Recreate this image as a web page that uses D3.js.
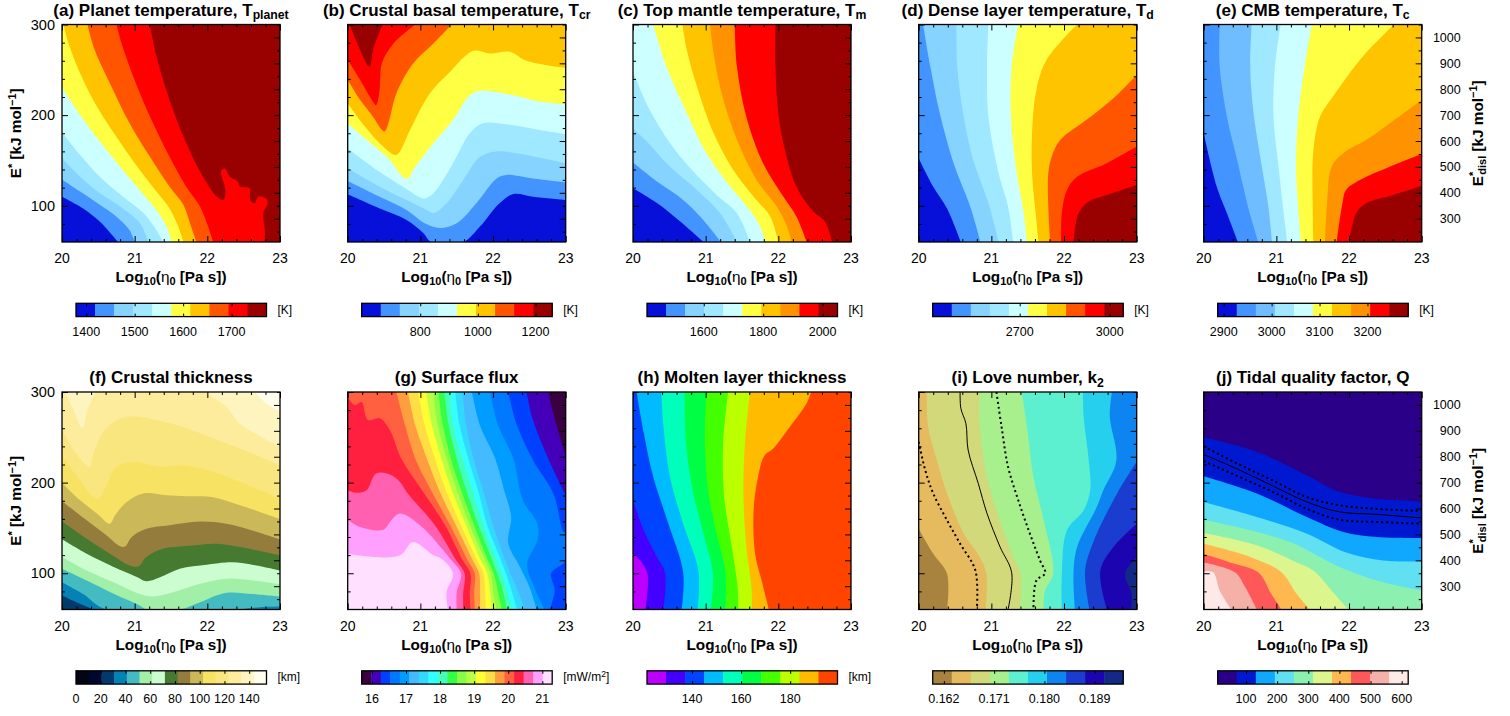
<!DOCTYPE html>
<html><head><meta charset="utf-8">
<script src="https://cdn.jsdelivr.net/npm/d3@7"></script>
<style>html,body{margin:0;padding:0;background:#fff}svg{display:block}text{font-family:"Liberation Sans",Arial,sans-serif;fill:#000}</style>
</head><body><div id="chart"></div>
<script>
// ---------- shared axis data ----------
const etaDomain=[20,23], eDomain=[60,300], eDislDomain=[210,1050];
const etaMajor=[20,21,22,23];
const etaMinor=[20.2,20.4,20.6,20.8,21.2,21.4,21.6,21.8,22.2,22.4,22.6,22.8];
const eMajor=[100,200,300];
const eMinor=[80,120,140,160,180,220,240,260,280];
const eDislMajor=[300,400,500,600,700,800,900,1000];
const eDislMinor=[250,350,450,550,650,750,850,950,1050];

// ---------- palettes ----------
const palA=["#0610d8","#4494ff","#87d3ff","#9fe8ff","#ccffff","#ffff44","#ffc400","#ff5500","#ff0000","#990000"];
const palC=["#0610d8","#4494ff","#87d3ff","#9fe8ff","#ccffff","#ffff44","#ffc400","#ff9200","#ff0000","#990000"];
const palE=["#0610d8","#4494ff","#6fbcff","#9fe8ff","#ccffff","#ffff44","#ffc400","#ff9200","#ff0000","#990000"];
const palF=["#040514","#00072f","#013a6b","#0481b5","#44bbc0","#a2efa8","#ccfdd0","#467a30","#947c3c","#cbb858","#f8e264","#f9e67e","#fcec9c","#fdf4c0","#fffdeb"];
const palG=["#3a0040","#4400b8","#0040ff","#0078ff","#009cff","#44bbff","#33d8ff","#33ffff","#44ffbb","#33ff44","#88ff44","#bbff44","#ffff33","#ffdd44","#ff9e3e","#ff6040","#ff2040","#ff60b0","#ffa0ff","#ffe0ff"];
const palH=["#bb00ff","#4400ff","#0044ff","#00bbff","#00ffbb","#00ff44","#44ff00","#bbff00","#ffbb00","#ff4400"];
const palI=["#a88340","#e6ba5e","#d2d97a","#a8ef8e","#5cf0d0","#26cfee","#0e84f0","#1a3dd0","#1c05b0","#122a85"];
const palJ=["#2a0088","#0018d0","#10a8ff","#60e0f0","#8cf0b0","#dcf58c","#ffb850","#ff5858","#f5b0a8","#ffe8e8"];

// ---------- contour boundaries [band index, [[log10 eta, E*],...]] ----------
const contA=[
[1,[[20,110],[20.29,97],[20.52,82.5],[20.77,60]]],
[2,[[20,129],[20.25,115.6],[20.52,101],[20.75,88],[20.93,73],[21,60]]],
[3,[[20,152.4],[20.25,132],[20.52,114],[20.84,97],[21.07,81],[21.19,60]]],
[4,[[20,180.8],[20.25,156],[20.52,132],[20.84,110],[21.12,92],[21.3,73],[21.39,60]]],
[5,[[20,230.8],[20.25,200],[20.52,171],[20.8,143],[21.07,117.5],[21.3,95],[21.44,77],[21.51,60]]],
[6,[[20.02,300],[20.09,279],[20.25,246],[20.48,209.5],[20.75,176],[21.07,139.5],[21.3,115.6],[21.48,97],[21.6,77],[21.67,60]]],
[7,[[20.35,300],[20.45,272],[20.66,235],[20.93,191],[21.21,154],[21.48,121],[21.67,101],[21.76,81],[21.85,60]]],
[8,[[20.75,300],[20.82,279],[20.98,242.6],[21.21,198.4],[21.48,154],[21.71,121],[21.9,99],[22.01,77],[22.08,60]]],
[9,[[21.21,300],[21.3,264.7],[21.48,216.8],[21.71,169],[21.94,132],[22.13,110],[22.22,106.4],[22.25,117.5],[22.19,137.7],[22.24,141],[22.31,132],[22.42,126.7],[22.45,121],[22.58,119.3],[22.59,106.4],[22.65,102.8],[22.7,110],[22.81,108],[22.83,102.8],[22.77,92],[22.79,73],[22.79,60]]]
];
const contB=[
[1,[[20,112.7],[20.44,97],[20.81,84.4],[21.04,70],[21.15,60],[21.59,60],[21.82,77],[22.09,102.8],[22.28,113],[22.55,110],[23,106.4]]],
[2,[[20,127.4],[20.44,110],[20.81,95.4],[21.06,80.7],[21.27,75.5],[21.5,80.7],[21.77,102.8],[22.05,130],[22.18,134],[22.55,130],[23,125.6]]],
[3,[[20,141.4],[20.44,121],[20.81,106.4],[21.09,95.4],[21.18,92],[21.36,102.8],[21.59,128.5],[21.82,154],[22.05,160],[22.32,158],[23,147]]],
[4,[[20,163.5],[20.4,139.5],[20.76,121],[20.99,109.4],[21.06,108],[21.18,113.8],[21.45,147],[21.68,180],[21.86,191],[22.18,190],[22.64,183.7],[23,179]]],
[5,[[20,191],[20.26,172.7],[20.58,150.6],[20.76,132],[20.83,129.6],[20.9,139.5],[21.18,169],[21.45,194.8],[21.68,222],[21.82,227],[22.28,222],[22.64,215],[23,212]]],
[6,[[20,213],[20.22,189],[20.44,169],[20.65,156],[20.7,158],[20.86,184],[21.13,224],[21.41,248],[21.73,271],[21.96,268],[22.23,270],[22.46,260],[23,252]]],
[7,[[20,239],[20.17,217],[20.35,198],[20.47,184],[20.51,182],[20.56,191],[20.67,224],[20.9,257],[21.18,279],[21.43,300]]],
[8,[[20,261],[20.17,239],[20.33,217],[20.39,211],[20.44,228],[20.47,257],[20.63,279],[20.93,300]]],
[9,[[20.03,300],[20.17,272],[20.3,253.6],[20.35,272],[20.48,300]]]
];
const contC=[
[1,[[20,119.3],[20.33,103],[20.65,82.5],[20.97,60]]],
[2,[[20,147.6],[20.33,126.7],[20.69,106.4],[20.97,84],[21.21,60]]],
[3,[[20,185.6],[20.19,171],[20.51,143],[20.88,117.5],[21.2,91.7],[21.43,60]]],
[4,[[20,248],[20.23,205.8],[20.51,169],[20.83,137.7],[21.15,112],[21.43,91.7],[21.61,60]]],
[5,[[20.28,300],[20.46,253.6],[20.74,202],[21.01,158],[21.34,121],[21.61,95],[21.75,77],[21.82,60]]],
[6,[[20.68,300],[20.74,272],[20.88,231.6],[21.11,180],[21.38,139.5],[21.66,110],[21.89,88],[22,60]]],
[7,[[21.06,300],[21.11,268],[21.22,224],[21.43,172.7],[21.7,128.5],[21.98,99],[22.12,77],[22.18,60]]],
[8,[[21.4,300],[21.43,253.6],[21.56,198],[21.79,147],[22.07,110],[22.25,88],[22.39,60]]],
[9,[[21.96,300],[21.96,253.6],[22,202],[22.09,161.6],[22.25,121],[22.48,93.6],[22.64,82.5],[22.74,60]]]
];
const contD=[
[1,[[20,152.4],[20.2,121],[20.39,97],[20.58,60]]],
[2,[[20.06,300],[20.16,253.6],[20.29,202],[20.48,147],[20.71,99],[20.85,60]]],
[3,[[20.52,300],[20.53,253.6],[20.62,198],[20.75,150.6],[20.96,103],[21.1,60]]],
[4,[[20.96,300],[20.94,253.6],[20.96,198],[21.1,136],[21.23,99],[21.3,60]]],
[5,[[21.37,300],[21.28,253.6],[21.27,198],[21.35,136],[21.44,95],[21.49,60]]],
[6,[[22.18,300],[21.76,261],[21.62,228],[21.56,180],[21.56,136],[21.6,99],[21.65,60]]],
[7,[[23,244.4],[22.68,218.7],[22.31,194.8],[21.95,172.7],[21.83,154],[21.78,132],[21.81,60]]],
[8,[[23,165.3],[22.59,147],[22.18,132],[22.04,117.5],[21.97,92],[21.96,60]]],
[9,[[23,123],[22.59,112],[22.34,104.6],[22.2,92],[22.13,60]]]
];
const contE=[
[1,[[20,180],[20.18,121],[20.32,91.7],[20.47,60]]],
[2,[[20.22,300],[20.22,253.6],[20.32,198],[20.45,154],[20.61,99],[20.75,60]]],
[3,[[20.66,300],[20.64,253.6],[20.68,205.8],[20.8,143],[20.89,99],[20.94,60]]],
[4,[[21.06,300],[20.98,253.6],[20.96,198],[21.03,143],[21.09,99],[21.15,60]]],
[5,[[21.49,300],[21.39,253.6],[21.3,198],[21.27,143],[21.3,99],[21.34,60]]],
[6,[[22.62,300],[22.19,264.7],[21.78,220.5],[21.6,198],[21.51,161.6],[21.5,99],[21.51,60]]],
[7,[[23,216.8],[22.56,191],[22.24,172.7],[21.92,158],[21.76,143],[21.7,106.4],[21.67,60]]],
[8,[[23,157],[22.56,143],[22.19,130],[21.96,117.5],[21.91,103],[21.83,60]]],
[9,[[23,122],[22.61,112],[22.24,103],[22.1,92],[22,60]]]
];
const contF=[
[3,[[20,75.5],[20.2,68],[20.43,60]]],
[4,[[20,90],[20.29,77],[20.61,60],[22.35,60],[22.72,62.6],[23,63.3]]],
[5,[[20,105],[20.34,92],[20.71,77.5],[21.07,64.5],[21.16,60],[21.62,60],[21.9,68],[22.26,78.4],[22.63,77],[23,74.4]]],
[6,[[20,118],[20.34,103],[20.71,90],[21.07,77],[21.25,74.4],[21.53,79],[21.9,88.4],[22.26,94],[22.63,92],[23,87.6]]],
[7,[[20,137.4],[20.34,121.5],[20.71,107],[21.03,96],[21.16,91.3],[21.35,95.7],[21.62,105],[21.99,109.4],[22.26,112],[22.54,110.5],[23,103]]],
[8,[[20,157.3],[20.34,138],[20.66,121.5],[20.93,108.6],[21.05,107.5],[21.16,118],[21.39,127],[21.71,130],[22.13,132.6],[22.45,129],[23,119.7]]],
[9,[[20,179.4],[20.34,158.4],[20.61,141.8],[20.8,129.7],[20.87,129.7],[20.96,140],[21.16,149],[21.48,153],[21.9,157],[22.26,154.7],[22.63,147],[23,137.4]]],
[10,[[20,199.7],[20.25,180.5],[20.48,166],[20.66,154.7],[20.73,164],[20.89,178.7],[21.12,188],[21.44,186],[21.71,185],[22.08,184],[22.45,175],[23,160]]],
[11,[[20,230],[20.2,208],[20.48,182],[20.57,190],[20.75,217.4],[20.98,223],[21.35,217.4],[21.71,219],[22.08,212],[22.45,201],[23,182.4]]],
[12,[[20,259.8],[20.16,236],[20.38,217.4],[20.43,232],[20.61,260],[20.89,272.7],[21.3,269],[21.71,260],[22.08,249],[22.45,237.7],[23,219]]],
[13,[[20.04,300],[20.16,280],[20.28,260],[20.35,280],[20.47,300]]],
[13,[[21.96,300],[22.26,283.8],[22.45,265],[23,239.5]]],
[14,[[22.65,300],[22.81,287.5],[23,278]]]
];
const contG=[
[18,[[20,121.5],[20.35,118],[20.72,119.8],[20.9,134.5],[21.18,119.8],[21.29,116],[21.45,99.5],[21.36,79],[21.38,60]]],
[17,[[20,159],[20.17,151],[20.49,148],[20.6,158.4],[20.72,165.8],[20.995,152.9],[21.41,116],[21.56,99.5],[21.5,79],[21.5,60]]],
[16,[[20,191.6],[20.12,188.7],[20.26,191.6],[20.39,210],[20.58,209],[20.72,200.7],[20.81,189.7],[21.2,152.9],[21.48,116],[21.61,99.5],[21.59,79],[21.59,60]]],
[15,[[20,294],[20.1,285.6],[20.19,289],[20.28,269],[20.44,271],[20.58,258],[20.74,226],[21.04,189.7],[21.34,152.9],[21.57,116],[21.69,99.5],[21.68,79],[21.69,60]]],
[14,[[20.67,300],[20.79,263.2],[20.93,226.4],[21.16,189.7],[21.41,152.9],[21.64,116.1],[21.75,99.5],[21.74,79.3],[21.75,60]]],
[13,[[20.83,300],[20.93,263.2],[21.09,226.4],[21.27,189.7],[21.49,152.9],[21.71,116.1],[21.81,99.5],[21.82,79.3],[21.82,60]]],
[12,[[20.97,300],[21.06,263.2],[21.2,226.4],[21.36,189.7],[21.56,152.9],[21.77,116.1],[21.87,99.5],[21.89,79.3],[21.9,60]]],
[11,[[21.08,300],[21.16,263.2],[21.29,226.4],[21.44,189.7],[21.63,152.9],[21.82,116.1],[21.92,99.5],[21.96,79.3],[21.98,60]]],
[10,[[21.18,300],[21.24,263.2],[21.36,226.4],[21.51,189.7],[21.68,152.9],[21.88,116.1],[21.97,99.5],[22,79.3],[22.05,60]]],
[9,[[21.25,300],[21.31,263.2],[21.42,226.4],[21.57,189.7],[21.74,152.9],[21.92,116.1],[22.01,99.5],[22.07,79.3],[22.12,60]]],
[8,[[21.33,300],[21.39,263.2],[21.5,226.4],[21.64,189.7],[21.8,152.9],[21.98,116.1],[22.06,99.5],[22.14,79.3],[22.19,60]]],
[7,[[21.41,300],[21.45,263.2],[21.58,226.4],[21.72,189.7],[21.87,152.9],[22.04,116.1],[22.12,99.5],[22.2,79.3],[22.26,60]]],
[6,[[21.48,300],[21.54,263.2],[21.66,226.4],[21.8,189.7],[21.92,152.9],[22.1,116.1],[22.18,99.5],[22.26,79.3],[22.33,60]]],
[5,[[21.58,300],[21.63,263.2],[21.73,226.4],[21.87,189.7],[22,152.9],[22.16,116.1],[22.24,99.5],[22.35,79.3],[22.44,60]]],
[4,[[21.71,300],[21.82,263.2],[22.03,226.4],[22.16,189.7],[22.23,171],[22.25,160],[22.21,133],[22.37,107],[22.5,85],[22.6,60]]],
[3,[[21.96,300],[22.07,263.2],[22.28,226.4],[22.41,180.5],[22.61,154.7],[22.61,136.3],[22.47,110.5],[22.55,88],[22.71,60]]],
[2,[[22.21,300],[22.33,263.2],[22.55,224.8],[22.83,188],[22.96,147],[23,143.7],[23,114],[22.8,100],[22.85,81],[22.78,60]]],
[1,[[22.46,300],[22.55,269],[22.73,232],[22.92,199],[23,186]]],
[0,[[22.76,300],[22.83,276.4],[22.92,250.6],[23,228.5]]]
];
const contH=[
[1,[[20,121.5],[20.1,114],[20.2,99.4],[20.17,60]]],
[2,[[20,180.5],[20.15,147],[20.33,118],[20.44,101],[20.42,60]]],
[3,[[20.05,300],[20.15,254],[20.28,206],[20.47,158.4],[20.69,101],[20.67,60]]],
[4,[[20.39,300],[20.42,261.7],[20.51,206],[20.69,154.7],[20.9,103],[20.89,60]]],
[5,[[20.71,300],[20.73,243],[20.83,188],[20.97,143.7],[21.1,99.4],[21.07,60]]],
[6,[[21.01,300],[20.99,243],[21.04,188],[21.15,143.7],[21.27,103],[21.27,60]]],
[7,[[21.31,300],[21.24,243],[21.25,188],[21.36,129],[21.44,84.7],[21.45,60]]],
[8,[[21.61,300],[21.54,243],[21.52,188],[21.56,129],[21.63,84.7],[21.64,60]]],
[9,[[22.45,300],[22.39,287.5],[22.16,261.7],[21.93,237.7],[21.81,230],[21.72,206],[21.66,169.5],[21.68,121.5],[21.77,92],[21.87,60]]]
];
const contI=[
[1,[[20,149.2],[20.2,121.5],[20.39,99.4],[20.39,60]]],
[2,[[20.11,300],[20.13,261.7],[20.25,224.8],[20.39,188],[20.62,143.7],[20.84,118],[20.93,99.4],[20.92,60]]],
[3,[[20.84,300],[20.84,261.7],[20.94,206],[21.1,162],[21.3,118],[21.4,99.4],[21.39,60]]],
[4,[[21.42,300],[21.49,261.7],[21.58,206],[21.72,158.4],[21.85,99.4],[21.74,81],[21.72,60]]],
[5,[[22.26,300],[22.27,272.7],[22.34,224.8],[22.36,191.6],[22.27,169.5],[22.04,147.4],[21.97,99.4],[21.97,60]]],
[6,[[22.66,300],[22.63,272.7],[22.72,224.8],[22.54,191.6],[22.45,173],[22.18,129],[22.13,99.4],[22.15,60]]],
[7,[[23,223],[22.73,188],[22.41,136],[22.29,103],[22.35,60]]],
[8,[[23,154.7],[22.68,129],[22.5,103],[22.59,60]]],
[9,[[23,118],[22.84,99.4],[22.93,77],[22.92,60]]]
];
const contJ=[
[1,[[23,178.7],[22.74,180.5],[22.38,182],[21.87,189.8],[21.42,208],[20.73,234],[20,250]]],
[2,[[23,139],[22.38,140],[21.92,145.5],[21.42,162],[20.73,188],[20,207]]],
[3,[[23,113],[22.47,114],[21.96,123],[21.42,143.7],[20.73,162],[20,178.7]]],
[4,[[23,81],[22.47,90],[21.87,107],[21.19,134.4],[20.64,147.4],[20,159]]],
[5,[[21.99,60],[21.8,77],[21.51,103],[21.28,112],[20.73,130.8],[20,144.4]]],
[6,[[21.46,60],[21.28,77],[21.07,101],[20.64,118],[20,132.5]]],
[7,[[21.07,60],[20.93,77],[20.75,101],[20.36,112],[20,121.5]]],
[8,[[20.73,60],[20.57,84.7],[20.43,101],[20,112]]],
[9,[[20.38,60],[20.22,81],[20.13,101],[20,102]]]
];
// overlay lines
const lineISolid=[[20.57,300],[20.58,282],[20.65,265],[20.68,236],[20.82,199],[20.94,166],[21.12,129],[21.28,100.5],[21.23,60]];
const lineIDotL=[[20,245],[20.09,213.7],[20.2,188],[20.39,158.4],[20.57,132.6],[20.78,103],[20.8,60]];
const lineIDotR=[[21.07,300],[21.14,261.7],[21.23,217.4],[21.37,180.5],[21.53,143.7],[21.67,114],[21.74,100],[21.62,92],[21.58,60]];
const lineJSolid=[[20,231],[20.5,213.7],[20.96,196],[21.42,178.7],[21.87,167.7],[22.38,165],[23,161]];
const lineJDotT=[[20,240],[20.5,219.5],[20.96,202],[21.42,184],[21.87,175],[22.38,171],[23,168.7]];
const lineJDotB=[[20,223.7],[20.5,206],[20.96,189.5],[21.42,171],[21.87,159],[22.38,156.6],[23,154.7]];

// ---------- colour bar data ----------
const barA=[1379,1772], ticksA=[1400,1500,1600,1700];
const barB=[597,1258], ticksB=[800,1000,1200];
const barC=[1409,2050], ticksC=[1600,1800,2000];
const barD=[2410,3045], ticksD=[2700,3000];
const barE=[2887.5,3285], ticksE=[2900,3000,3100,3200];
const barF=[0,154], ticksF=[0,20,40,60,80,100,120,140];
const barG=[15.7,21.29], ticksG=[16,17,18,19,20,21];
const barH=[121.6,199.3], ticksH=[140,160,180];
const barI=[0.160,0.1941], ticksI=[0.162,0.171,0.180,0.189];
const barJ=[9,621], ticksJ=[100,200,300,400,500,600];

const panels=[
 {title:[["(a) Planet temperature, T"],["planet","sub"]],bg:0,pal:palA,cont:contA,bar:barA,ticks:ticksA,unit:[["[K]"]],col:0,row:0,fmt:String},
 {title:[["(b) Crustal basal temperature, T"],["cr","sub"]],bg:0,pal:palA,cont:contB,bar:barB,ticks:ticksB,unit:[["[K]"]],col:1,row:0,fmt:String},
 {title:[["(c) Top mantle temperature, T"],["m","sub"]],bg:0,pal:palC,cont:contC,bar:barC,ticks:ticksC,unit:[["[K]"]],col:2,row:0,fmt:String},
 {title:[["(d) Dense layer temperature, T"],["d","sub"]],bg:0,pal:palA,cont:contD,bar:barD,ticks:ticksD,unit:[["[K]"]],col:3,row:0,fmt:String},
 {title:[["(e) CMB temperature, T"],["c","sub"]],bg:0,pal:palE,cont:contE,bar:barE,ticks:ticksE,unit:[["[K]"]],col:4,row:0,fmt:String},
 {title:[["(f) Crustal thickness"]],bg:2,pal:palF,cont:contF,bar:barF,ticks:ticksF,unit:[["[km]"]],col:0,row:1,fmt:String},
 {title:[["(g) Surface flux"]],bg:19,pal:palG,cont:contG,bar:barG,ticks:ticksG,unit:[["[mW/m"],["2","sup"],["]"]],col:1,row:1,fmt:String},
 {title:[["(h) Molten layer thickness"]],bg:0,pal:palH,cont:contH,bar:barH,ticks:ticksH,unit:[["[km]"]],col:2,row:1,fmt:String},
 {title:[["(i) Love number, k"],["2","sub"]],bg:0,pal:palI,cont:contI,bar:barI,ticks:ticksI,unit:null,col:3,row:1,fmt:d3.format(".3f"),
  lines:[[lineISolid,false],[lineIDotL,true],[lineIDotR,true]]},
 {title:[["(j) Tidal quality factor, Q"]],bg:0,pal:palJ,cont:contJ,bar:barJ,ticks:ticksJ,unit:null,col:4,row:1,fmt:String,
  lines:[[lineJSolid,false],[lineJDotT,true],[lineJDotB,true]]}
];

// ---------- layout ----------
const W=1510,H=716;
const colX=[62,347.7,633,918.7,1203.7], PW=218, PH=217.5, rowY=[24.5,392];
const svg=d3.select("#chart").append("svg").attr("width",W).attr("height",H);
const defs=svg.append("defs");

function rich(t,parts,size){
  let cur=0;
  parts.forEach(p=>{
    const kind=p[1]; const target=kind==="sub"?size*0.22:kind==="sup"?-size*0.36:0;
    const ts=t.append("tspan").text(p[0]).attr("dy",target-cur);
    if(kind) ts.attr("font-size",size*0.72);
    if(p[2]) ts.attr("font-weight",p[2]);
    if(p[3]) ts.attr("dx",p[3]);
    cur=target;
  });
  return t;
}

const xLabel=[["Log"],["10","sub"],["("],["η",null,"normal"],["0","sub"],[" [Pa s])"]];
const yLabel=[["E"],["*","sup"],[" [kJ mol"],["−1","sup"],["]"]];
const yLabelR=[["E"],["*","sup"],["disl","sub",null,-3],[" [kJ mol"],["−1","sup"],["]"]];
const fsTitle=17, fsLabel=15.3, fsX=14, fsL=14.5, fsR=12.5, fsBar=12.5;

panels.forEach((p,i)=>{
  const x0=colX[p.col], y0=rowY[p.row];
  const g=svg.append("g").attr("transform",`translate(${x0},${y0})`);
  const x=d3.scaleLinear().domain(etaDomain).range([0,PW]);
  const y=d3.scaleLinear().domain(eDomain).range([PH,0]);
  const yd=d3.scaleLinear().domain(eDislDomain).range([PH,0]);
  const clip="clip"+i;
  defs.append("clipPath").attr("id",clip).append("rect").attr("width",PW).attr("height",PH);
  const plot=g.append("g").attr("clip-path",`url(#${clip})`);
  plot.append("rect").attr("width",PW).attr("height",PH).attr("fill",p.pal[p.bg]);

  const curve=d3.line().x(d=>x(d[0])).y(d=>y(d[1])).curve(d3.curveCatmullRom.alpha(0.5));
  const per=d=>{
    const e=0.001;
    if(Math.abs(d[0]-20)<e) return (300-d[1])/240;
    if(Math.abs(d[1]-60)<e) return 1+(d[0]-20)/3;
    if(Math.abs(d[0]-23)<e) return 2+(d[1]-60)/240;
    return 3+(23-d[0])/3;
  };
  const corner={1:[20,60],2:[23,60],3:[23,300],0:[20,300]};
  plot.selectAll("path.band").data(p.cont).join("path").attr("class","band")
    .attr("fill",d=>p.pal[d[0]])
    .attr("d",d=>{
      const pts=d[1]; const te=per(pts[pts.length-1]); let ts=per(pts[0]);
      if(ts<=te) ts+=4;
      let s=curve(pts);
      for(let c=1;c<9;c++){ if(c>te&&c<ts){const q=corner[c%4]; s+=`L${x(q[0])},${y(q[1])}`;} }
      return s+"Z";
    });
  if(p.lines) p.lines.forEach(l=>{
    const pth=plot.append("path").attr("d",curve(l[0])).attr("fill","none").attr("stroke","#000");
    if(l[1]) pth.attr("stroke-width",2).attr("stroke-dasharray","2 3");
    else pth.attr("stroke-width",1);
  });

  const ax=(gen,scale,vals,len,tx,ty)=>{
    const a=g.append("g").attr("transform",`translate(${tx},${ty})`)
      .call(gen(scale).tickValues(vals).tickSize(len).tickFormat(""));
    a.select(".domain").remove();
    a.selectAll("line").attr("stroke","#000").attr("stroke-width",1);
  };
  ax(d3.axisBottom,x,etaMajor,-6,0,PH); ax(d3.axisBottom,x,etaMinor,-3,0,PH);
  ax(d3.axisTop,x,etaMajor,-6,0,0);     ax(d3.axisTop,x,etaMinor,-3,0,0);
  ax(d3.axisLeft,y,eMajor,-6,0,0);      ax(d3.axisLeft,y,eMinor,-3,0,0);
  ax(d3.axisRight,yd,eDislMajor,-6,PW,0); ax(d3.axisRight,yd,eDislMinor,-3,PW,0);

  g.append("rect").attr("width",PW).attr("height",PH).attr("fill","none").attr("stroke","#000").attr("stroke-width",1.3);

  etaMajor.forEach(v=>g.append("text").attr("x",x(v)).attr("y",PH+21).attr("text-anchor","middle").attr("font-size",fsX).text(v));
  rich(g.append("text").attr("x",PW/2).attr("y",PH+40).attr("text-anchor","middle").attr("font-size",fsLabel).attr("font-weight","bold"),xLabel,fsLabel);
  rich(g.append("text").attr("x",PW/2).attr("y",-9).attr("text-anchor","middle").attr("font-size",fsTitle).attr("font-weight","bold"),p.title,fsTitle);

  if(p.col===0){
    eMajor.forEach(v=>g.append("text").attr("x",-7).attr("y",y(v)+5).attr("text-anchor","end").attr("font-size",fsL).text(v));
    rich(g.append("text").attr("transform",`translate(-41,${PH/2}) rotate(-90)`).attr("text-anchor","middle").attr("font-size",fsLabel).attr("font-weight","bold"),yLabel,fsLabel);
  }
  if(p.col===4){
    eDislMajor.forEach(v=>g.append("text").attr("x",PW+39).attr("y",yd(v)+4.5).attr("text-anchor","end").attr("font-size",fsR).text(v));
    rich(g.append("text").attr("transform",`translate(${PW+61},${PH/2}) rotate(-90)`).attr("text-anchor","middle").attr("font-size",fsLabel).attr("font-weight","bold"),yLabelR,fsLabel);
  }

  const bx=14, by=PH+61.3, bw=190.5, bh=13.3;
  const cb=g.append("g").attr("transform",`translate(${bx},${by})`);
  const cs=d3.scaleLinear().domain(p.bar).range([0,bw]);
  const step=(p.bar[1]-p.bar[0])/p.pal.length;
  cb.selectAll("rect.sw").data(p.pal).join("rect").attr("class","sw")
    .attr("x",(d,k)=>cs(p.bar[0]+k*step)).attr("y",0)
    .attr("width",bw/p.pal.length+0.5).attr("height",bh).attr("fill",d=>d);
  const ca=cb.append("g").attr("transform",`translate(0,${bh})`)
    .call(d3.axisBottom(cs).tickValues(p.ticks).tickSize(-3).tickFormat(""));
  ca.select(".domain").remove(); ca.selectAll("line").attr("stroke","#000");
  const cb2=cb.append("g").call(d3.axisTop(cs).tickValues(p.ticks).tickSize(-3).tickFormat(""));
  cb2.select(".domain").remove(); cb2.selectAll("line").attr("stroke","#000");
  cb.append("rect").attr("width",bw).attr("height",bh).attr("fill","none").attr("stroke","#000").attr("stroke-width",1.3);
  p.ticks.forEach(v=>cb.append("text").attr("x",cs(v)).attr("y",bh+19).attr("text-anchor","middle").attr("font-size",fsBar).text(p.fmt(v)));
  if(p.unit) rich(cb.append("text").attr("x",bw+11).attr("y",bh/2+4).attr("font-size",12).attr("fill","#222"),p.unit,12);
});
</script></body></html>
